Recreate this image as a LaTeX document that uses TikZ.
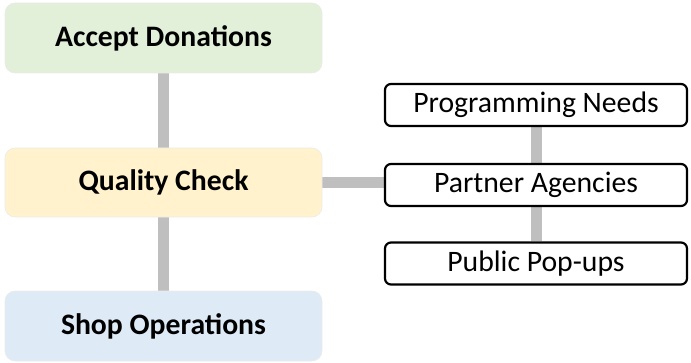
\documentclass[tikz,border=0pt]{standalone}
\usepackage{fontspec}
\setmainfont{Carlito}
\usetikzlibrary{backgrounds}
\definecolor{stepgreen}{HTML}{E2EFD9}
\definecolor{stepyellow}{HTML}{FFF2CC}
\definecolor{stepblue}{HTML}{DEEBF7}
\definecolor{linkgray}{HTML}{BFBFBF}
\begin{document}
\begin{tikzpicture}[x=1pt,y=1pt,
  mainbox/.style={rounded corners=10pt, draw=black!8, line width=0.6pt,
    minimum width=317pt, minimum height=70pt, inner sep=0pt,
    font=\fontsize{29.7}{34}\selectfont\bfseries},
  subbox/.style={rounded corners=6pt, draw=black, line width=2.2pt, fill=white,
    minimum width=302pt, minimum height=42pt, inner sep=0pt,
    font=\fontsize{29.7}{34}\selectfont},
  link/.style={draw=linkgray, line width=11pt}]
  \useasboundingbox (0,0) rectangle (691,362);
  % main process column
  \node[mainbox, fill=stepgreen]  (acc)  at (163.5,324) {Accept Donations};
  \node[mainbox, fill=stepyellow, minimum height=69pt] (qc) at (163.5,179.5) {Quality Check};
  \node[mainbox, fill=stepblue]   (shop) at (163.5,36)  {Shop Operations};
  % distribution branch
  \node[subbox] (prog) at (536,257)  {Programming Needs};
  \node[subbox] (part) at (536,177)  {Partner Agencies};
  \node[subbox] (pub)  at (536,98.5) {Public Pop-ups};
  % connectors behind the boxes
  \begin{scope}[on background layer]
    \draw[link] (acc.south) -- (qc.north);
    \draw[link] (qc.south) -- (shop.north);
    \draw[link] (qc.east) -- (part.west |- qc.east);
    \draw[link] (prog.south) -- (part.north);
    \draw[link] (part.south) -- (pub.north);
  \end{scope}
\end{tikzpicture}
\end{document}
